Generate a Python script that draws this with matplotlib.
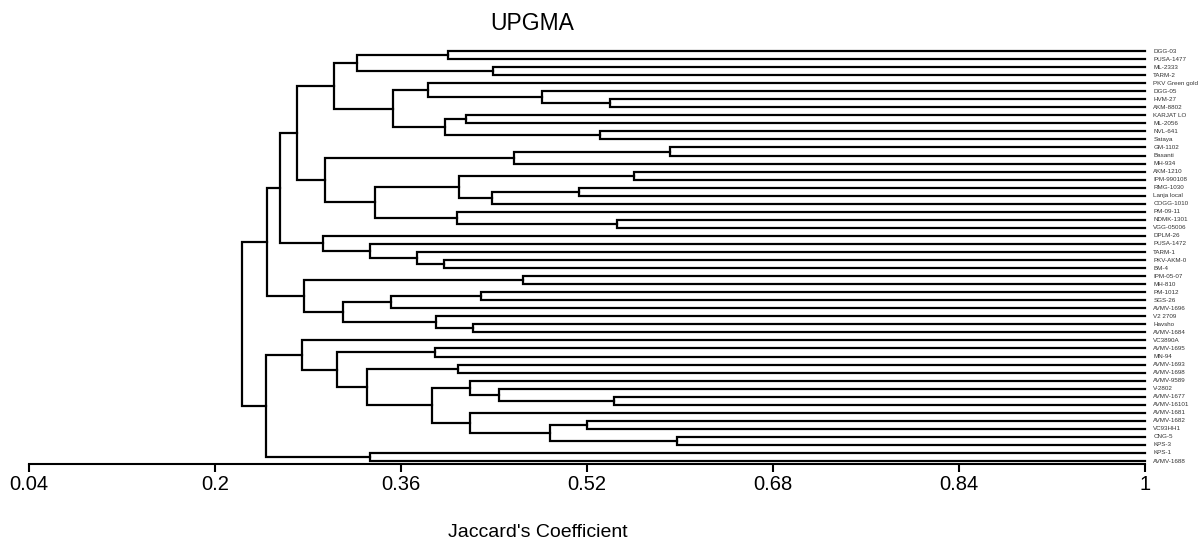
import matplotlib
matplotlib.use('Agg')
import matplotlib.pyplot as plt

plt.rcParams['font.family'] = ['Liberation Sans', 'DejaVu Sans']

# genotypes, top to bottom
leaves = ['DGG-03', 'PUSA-1477', 'ML-2333', 'TARM-2', 'PKV Green gold', 'DGG-05',
          'HVM-27', 'AKM-8802', 'KARJAT LO', 'ML-2056', 'NVL-641', 'Sataya',
          'GM-1102', 'Basanti', 'MH-934', 'AKM-1210', 'IPM-990108', 'RMG-1030',
          'Lanja local', 'COGG-1010', 'PM-09-11', 'NDMK-1301', 'VGG-05006',
          'DPLM-26', 'PUSA-1472', 'TARM-1', 'PKV-AKM-0', 'BM-4', 'IPM-05-07',
          'MH-810', 'PM-1012', 'SGS-26', 'AVMV-1696', 'V2 2709', 'Havsho',
          'AVMV-1684', 'VC3890A', 'AVMV-1695', 'MN-94', 'AVMV-1693', 'AVMV-1698',
          'AVMV-9589', 'V-2802', 'AVMV-1677', 'AVMV-16101', 'AVMV-1681',
          'AVMV-1682', 'VC93HH1', 'CNG-5', 'KPS-3', 'KPS-1', 'AVMV-1688']

# merges (like a linkage matrix): node 52+k joins merge_a[k] and merge_b[k]
merge_a = [0, 2, 52, 6, 5, 4, 8, 10, 58, 57, 54, 12, 63, 15, 17, 66, 65, 21, 20,
           68, 64, 62, 26, 25, 24, 23, 73, 28, 30, 80, 34, 33, 81, 79, 78, 37,
           39, 43, 42, 41, 46, 48, 92, 45, 91, 88, 87, 36, 50, 99, 86]
merge_b = [1, 3, 53, 7, 55, 56, 9, 11, 59, 60, 61, 13, 14, 16, 18, 19, 67, 22, 69,
           70, 71, 72, 27, 74, 75, 76, 77, 29, 31, 32, 35, 82, 83, 84, 85, 38,
           40, 44, 89, 90, 47, 49, 93, 94, 95, 96, 97, 98, 51, 100, 101]
merge_h = [0.400, 0.439, 0.322, 0.540, 0.481, 0.383, 0.416, 0.531, 0.398, 0.353,
           0.302, 0.591, 0.457, 0.560, 0.513, 0.438, 0.410, 0.546, 0.408, 0.338,
           0.295, 0.2705, 0.397, 0.374, 0.333, 0.293, 0.2557, 0.465, 0.429,
           0.351, 0.422, 0.390, 0.310, 0.2766, 0.2445, 0.3895, 0.409, 0.5435,
           0.444, 0.419, 0.520, 0.597, 0.488, 0.419, 0.387, 0.3305, 0.305,
           0.2746, 0.333, 0.2436, 0.223]

ticks = [0.04, 0.2, 0.36, 0.52, 0.68, 0.84, 1]
tick_labels = ['0.04', '0.2', '0.36', '0.52', '0.68', '0.84', '1']

fig = plt.figure(figsize=(12.01, 5.46), dpi=100)
ax = fig.add_axes([29 / 1201, 82 / 546, 1116 / 1201, 419 / 546])

n = len(leaves)
pos_x = {i: 1.0 for i in range(n)}
pos_y = {i: float(i) for i in range(n)}

lw = 1.6
for k, (a, b, h) in enumerate(zip(merge_a, merge_b, merge_h)):
    node = n + k
    ya, yb = pos_y[a], pos_y[b]
    ax.plot([pos_x[a], h, h, pos_x[b]], [ya, ya, yb, yb], color='black',
            lw=lw, clip_on=False, solid_joinstyle='miter')
    pos_x[node] = h
    pos_y[node] = (ya + yb) / 2

for i, name in enumerate(leaves):
    ax.annotate(name, xy=(1.0, i), xytext=(6, 0), textcoords='offset points',
                ha='left', va='center', fontsize=4.5, color='#333333',
                annotation_clip=False)

ax.set_xlim(0.04, 1.0)
ax.set_ylim(51.37, -0.75)
ax.set_xticks(ticks)
ax.set_xticklabels(tick_labels)
ax.set_yticks([])
for s in ['top', 'left', 'right']:
    ax.spines[s].set_visible(False)
ax.spines['bottom'].set_linewidth(1.5)
ax.tick_params(axis='x', direction='out', length=6, width=1.5, pad=2,
               labelsize=14.5)
ax.patch.set_visible(False)

fig.text(0.443, 0.957, 'UPGMA', ha='center', va='center', fontsize=16.5)
fig.text(0.448, 0.024, "Jaccard's Coefficient", ha='center', va='center',
         fontsize=14)

fig.savefig('out.png', dpi=100)
